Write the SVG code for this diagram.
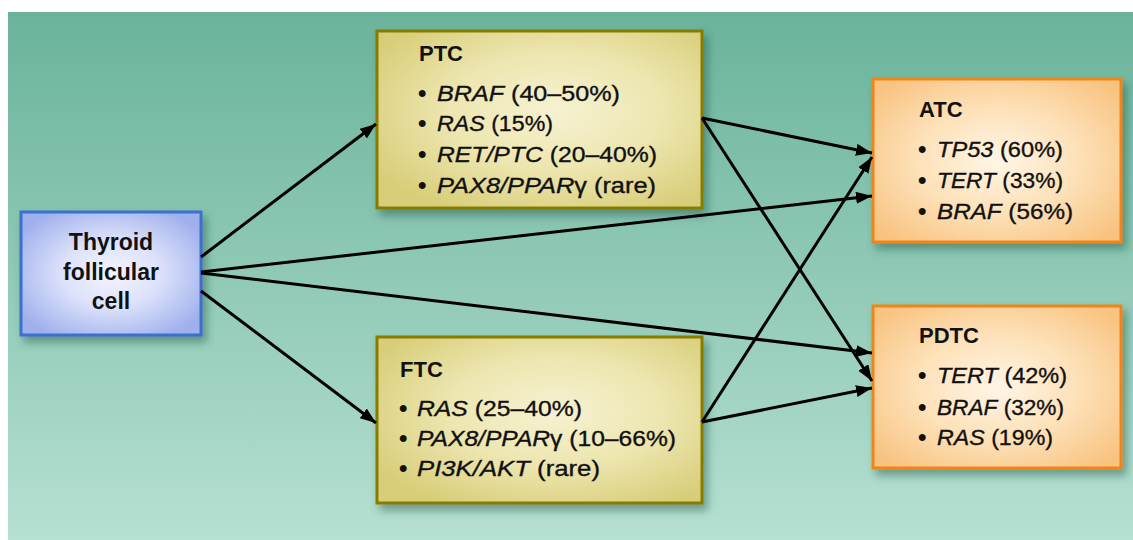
<svg xmlns="http://www.w3.org/2000/svg" width="1133" height="540" viewBox="0 0 1133 540">
<defs>
<linearGradient id="bg" x1="0" y1="0" x2="0" y2="1">
<stop offset="0" stop-color="#6ab39a"/>
<stop offset="1" stop-color="#b6e0d1"/>
</linearGradient>
<radialGradient id="gBlue" cx="0.5" cy="0.5" r="0.6">
<stop offset="0" stop-color="#f3f4ff"/>
<stop offset="0.45" stop-color="#dde2fb"/>
<stop offset="1" stop-color="#9fb0ec"/>
</radialGradient>
<radialGradient id="gYel" cx="0.55" cy="0.45" r="0.65">
<stop offset="0" stop-color="#f6f2d2"/>
<stop offset="0.5" stop-color="#ede6b0"/>
<stop offset="1" stop-color="#d8cd78"/>
</radialGradient>
<radialGradient id="gOra" cx="0.5" cy="0.5" r="0.65">
<stop offset="0" stop-color="#fff5e6"/>
<stop offset="0.5" stop-color="#fde1b8"/>
<stop offset="1" stop-color="#f8c27f"/>
</radialGradient>
<filter id="sh" x="-10%" y="-10%" width="125%" height="130%">
<feDropShadow dx="4" dy="6" stdDeviation="4" flood-color="#1f4a3d" flood-opacity="0.45"/>
</filter>
<marker id="ah" viewBox="0 0 16 12" markerUnits="userSpaceOnUse" markerWidth="16" markerHeight="12" refX="16" refY="6" orient="auto">
<path d="M0,0 L16,6 L0,12 Z" fill="#000"/>
</marker>
</defs>
<style>
.t{font-family:"Liberation Sans",Arial,sans-serif;font-weight:bold;font-size:22px;fill:#111;}
.th{font-family:"Liberation Sans",Arial,sans-serif;font-weight:bold;font-size:23px;fill:#111;}
.i{font-family:"Liberation Sans",Arial,sans-serif;font-size:22px;fill:#111;stroke:#111;stroke-width:0.35px;}
.i .g{font-style:italic;}
.b{font-family:"Liberation Sans",Arial,sans-serif;font-size:24px;font-weight:bold;fill:#111;}
.blue{fill:url(#gBlue);stroke:#3a6fd0;stroke-width:3;}
.yel{fill:url(#gYel);stroke:#867d00;stroke-width:3;}
.ora{fill:url(#gOra);stroke:#f08518;stroke-width:3;}
.c{fill:none;stroke:#000;stroke-width:3;marker-end:url(#ah);}
</style>
<rect x="0" y="0" width="1133" height="540" fill="#fff"/>
<rect x="8" y="12" width="1125" height="528" fill="url(#bg)"/>

<g id="thyroid">
<rect class="blue" x="21" y="212" width="180" height="123" filter="url(#sh)"/>
<text class="th" x="111" y="250" text-anchor="middle">Thyroid</text>
<text class="th" x="111" y="280" text-anchor="middle">follicular</text>
<text class="th" x="111" y="309" text-anchor="middle">cell</text>
</g>

<g id="ptc">
<rect class="yel" x="377" y="31" width="325" height="177" filter="url(#sh)"/>
<text class="t" x="419" y="61">PTC</text>
<text class="b" x="418" y="101">•</text>
<text class="i" x="437" y="101" textLength="183" lengthAdjust="spacingAndGlyphs"><tspan class="g">BRAF</tspan> (40–50%)</text>
<text class="b" x="418" y="131">•</text>
<text class="i" x="437" y="131" textLength="116" lengthAdjust="spacingAndGlyphs"><tspan class="g">RAS</tspan> (15%)</text>
<text class="b" x="418" y="162">•</text>
<text class="i" x="437" y="162" textLength="220" lengthAdjust="spacingAndGlyphs"><tspan class="g">RET/PTC</tspan> (20–40%)</text>
<text class="b" x="418" y="193">•</text>
<text class="i" x="437" y="193" textLength="219" lengthAdjust="spacingAndGlyphs"><tspan class="g">PAX8/PPAR</tspan>γ (rare)</text>
</g>

<g id="ftc">
<rect class="yel" x="377" y="337" width="325" height="166" filter="url(#sh)"/>
<text class="t" x="400" y="377">FTC</text>
<text class="b" x="399" y="416">•</text>
<text class="i" x="417" y="416" textLength="165" lengthAdjust="spacingAndGlyphs"><tspan class="g">RAS</tspan> (25–40%)</text>
<text class="b" x="399" y="446">•</text>
<text class="i" x="417" y="446" textLength="259" lengthAdjust="spacingAndGlyphs"><tspan class="g">PAX8/PPAR</tspan>γ (10–66%)</text>
<text class="b" x="399" y="476">•</text>
<text class="i" x="417" y="476" textLength="183" lengthAdjust="spacingAndGlyphs"><tspan class="g">PI3K/AKT</tspan> (rare)</text>
</g>

<g id="atc">
<rect class="ora" x="873" y="79" width="248" height="163" filter="url(#sh)"/>
<text class="t" x="919" y="117">ATC</text>
<text class="b" x="918" y="157">•</text>
<text class="i" x="937" y="157" textLength="126" lengthAdjust="spacingAndGlyphs"><tspan class="g">TP53</tspan> (60%)</text>
<text class="b" x="918" y="188">•</text>
<text class="i" x="937" y="188" textLength="126" lengthAdjust="spacingAndGlyphs"><tspan class="g">TERT</tspan> (33%)</text>
<text class="b" x="918" y="219">•</text>
<text class="i" x="937" y="219" textLength="136" lengthAdjust="spacingAndGlyphs"><tspan class="g">BRAF</tspan> (56%)</text>
</g>

<g id="pdtc">
<rect class="ora" x="873" y="306" width="248" height="162" filter="url(#sh)"/>
<text class="t" x="919" y="343">PDTC</text>
<text class="b" x="918" y="383">•</text>
<text class="i" x="937" y="383" textLength="130" lengthAdjust="spacingAndGlyphs"><tspan class="g">TERT</tspan> (42%)</text>
<text class="b" x="918" y="415">•</text>
<text class="i" x="937" y="415" textLength="127" lengthAdjust="spacingAndGlyphs"><tspan class="g">BRAF</tspan> (32%)</text>
<text class="b" x="918" y="445">•</text>
<text class="i" x="937" y="445" textLength="116" lengthAdjust="spacingAndGlyphs"><tspan class="g">RAS</tspan> (19%)</text>
</g>

<g id="connectors">
<line class="c" x1="201" y1="257" x2="376" y2="124"/>
<line class="c" x1="201" y1="272" x2="872" y2="196"/>
<line class="c" x1="201" y1="273" x2="872" y2="353"/>
<line class="c" x1="201" y1="291" x2="376" y2="423"/>
<line class="c" x1="702" y1="118" x2="872" y2="153"/>
<line class="c" x1="702" y1="118" x2="872" y2="381"/>
<line class="c" x1="702" y1="422" x2="872" y2="157"/>
<line class="c" x1="702" y1="422" x2="872" y2="388"/>
</g>
</svg>
